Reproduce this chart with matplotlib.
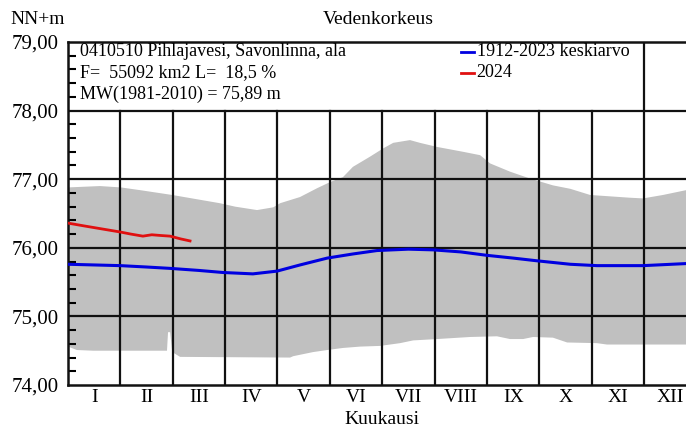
import numpy as np
import matplotlib
matplotlib.use("Agg")
import matplotlib.pyplot as plt
from matplotlib.ticker import MultipleLocator, FuncFormatter

plt.rcParams['font.family'] = ['Liberation Serif', 'DejaVu Serif']

# Data (x in months from 1 Jan, y in m)
months = ['I', 'II', 'III', 'IV', 'V', 'VI', 'VII', 'VIII', 'IX', 'X', 'XI', 'XII']

upper_x = [0.00, 0.61, 1.01, 1.38, 1.99, 2.52, 2.90, 3.19, 3.61, 3.92, 4.05, 4.43,
           4.76, 5.01, 5.25, 5.44, 5.77, 6.02, 6.21, 6.53, 6.72, 7.05, 7.54, 7.87,
           8.06, 8.44, 8.82, 9.26, 9.59, 9.97, 10.35, 10.73, 10.98, 11.36, 11.80, 12.0]
upper_y = [76.88, 76.90, 76.88, 76.84, 76.77, 76.70, 76.65, 76.60, 76.55, 76.59, 76.65, 76.74,
           76.87, 76.96, 77.03, 77.18, 77.33, 77.45, 77.53, 77.57, 77.53, 77.47, 77.40, 77.35,
           77.23, 77.11, 77.01, 76.91, 76.86, 76.77, 76.75, 76.73, 76.72, 76.77, 76.84, 76.86]

lower_x = [0.00, 0.17, 0.48, 1.89, 1.91, 1.95, 1.99, 2.14, 4.24, 4.30, 4.68, 4.95,
           5.25, 5.58, 5.96, 6.34, 6.59, 7.05, 7.68, 8.19, 8.44, 8.69, 8.88, 9.26,
           9.53, 10.10, 10.29, 11.80, 12.0]
lower_y = [74.56, 74.51, 74.50, 74.50, 74.77, 74.77, 74.48, 74.41, 74.40, 74.42, 74.48, 74.51,
           74.54, 74.56, 74.57, 74.61, 74.65, 74.67, 74.70, 74.71, 74.67, 74.67, 74.70, 74.69,
           74.62, 74.61, 74.59, 74.59, 74.59]

mean_x = [0.00, 0.50, 1.00, 1.50, 1.95, 2.50, 2.96, 3.53, 3.99, 4.43, 4.95, 5.44, 5.90,
          6.20, 6.50, 6.97, 7.50, 8.00, 8.50, 8.96, 9.59, 10.10, 10.98, 11.80, 12.0]
mean_y = [75.76, 75.75, 75.74, 75.72, 75.70, 75.67, 75.64, 75.62, 75.66, 75.75, 75.85, 75.91, 75.96,
          75.97, 75.98, 75.97, 75.94, 75.89, 75.85, 75.81, 75.76, 75.74, 75.74, 75.77, 75.78]

y2024_x = [0.00, 0.30, 0.61, 1.00, 1.20, 1.43, 1.60, 1.76, 1.95, 2.15, 2.33]
y2024_y = [76.36, 76.32, 76.28, 76.23, 76.20, 76.17, 76.19, 76.18, 76.17, 76.13, 76.10]

W, H = 686, 432
fig = plt.figure(figsize=(W / 100, H / 100), dpi=100)
ax = fig.add_axes([68 / W, (H - 385) / H, (W - 68) / W, (385 - 42) / H])

ax.fill(np.r_[upper_x, lower_x[::-1]], np.r_[upper_y, lower_y[::-1]],
        color='#c0c0c0', lw=0, zorder=1)

ax.plot(mean_x, mean_y, color='#0000e0', lw=2.2, zorder=4)
ax.plot(y2024_x, y2024_y, color='#e01010', lw=2.0, zorder=4)

# grid
for y in [75, 76, 77, 78]:
    ax.axhline(y, color='#111111', lw=1.6, zorder=3)
for m in range(1, 12):
    ax.plot([m, m], [74, 79 if m == 11 else 78], color='#111111', lw=1.6, zorder=3)

ax.set_xlim(0, 11.80)
ax.set_ylim(74, 79)
ax.set_xticks([])
ax.yaxis.set_major_locator(MultipleLocator(1))
ax.yaxis.set_minor_locator(MultipleLocator(0.2))
ax.yaxis.set_major_formatter(FuncFormatter(lambda v, p: f"{v:.2f}".replace('.', ',')))
ax.tick_params(axis='y', which='major', direction='in', length=0, pad=7, labelsize=15)
ax.tick_params(axis='y', which='minor', direction='in', length=6, width=1.5)
for s in ['left', 'top', 'bottom']:
    ax.spines[s].set_linewidth(1.8)
    ax.spines[s].set_color('#111111')
ax.spines['right'].set_visible(False)

for i, lab in enumerate(months):
    ax.text(i + 0.5, 73.82, lab, ha='center', va='center', fontsize=14)

# header
hdr = ["0410510 Pihlajavesi, Savonlinna, ala",
       "F=  55092 km2 L=  18,5 %",
       "MW(1981-2010) = 75,89 m"]
for k, t in enumerate(hdr):
    ax.text(0.22, 78.86 - k * 0.31, t, ha='left', va='center', fontsize=13)

ax.plot([7.51, 7.76], [78.86, 78.86], color='#0000e0', lw=2)
ax.text(7.80, 78.86, "1912-2023 keskiarvo", ha='left', va='center', fontsize=13)
ax.plot([7.51, 7.76], [78.55, 78.55], color='#e01010', lw=2)
ax.text(7.80, 78.55, "2024", ha='left', va='center', fontsize=13)

fig.text(38 / W, 1 - 20 / H, "NN+m", ha='center', va='center', fontsize=14)
fig.text(378 / W, 1 - 20 / H, "Vedenkorkeus", ha='center', va='center', fontsize=14)
fig.text(382 / W, 1 - 420 / H, "Kuukausi", ha='center', va='center', fontsize=14)

fig.savefig("out.png", dpi=100)
